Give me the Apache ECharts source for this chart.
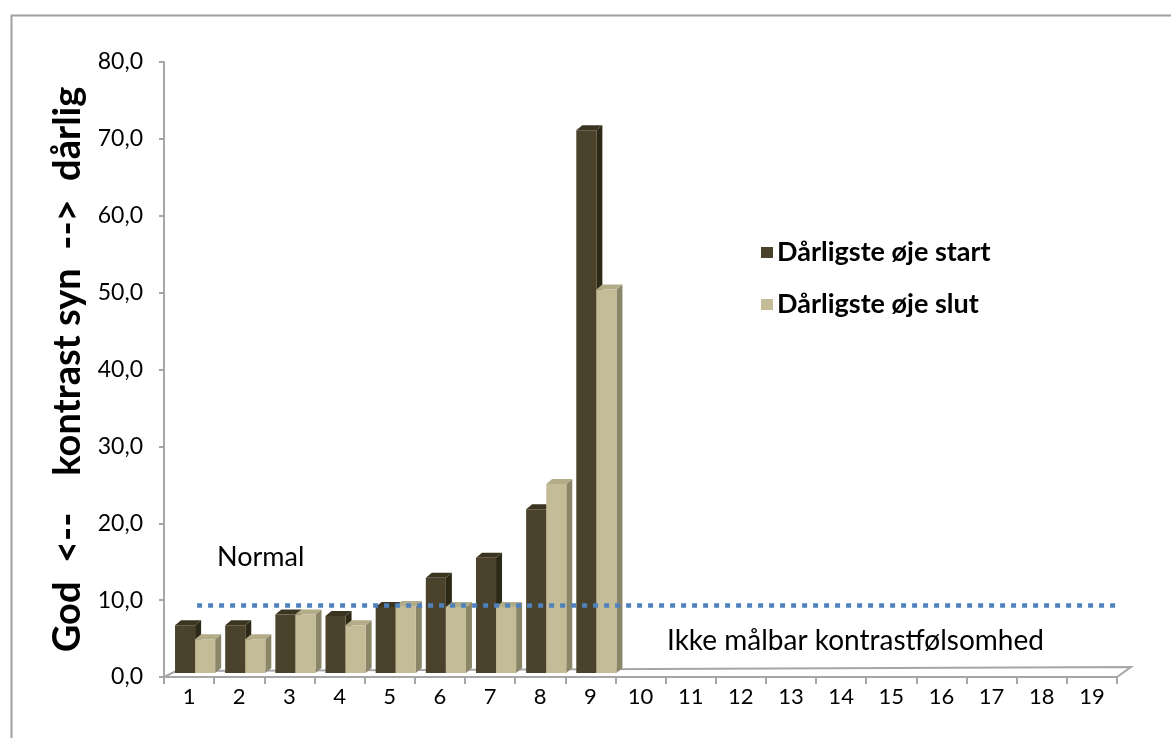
<!DOCTYPE html>
<html>
<head>
<meta charset="utf-8">
<script src="https://cdn.jsdelivr.net/npm/echarts@6/dist/echarts.min.js"></script>
<style>
  html, body { margin: 0; padding: 0; background: #ffffff; }
  #chart { width: 1171px; height: 738px; }
</style>
</head>
<body>
<div id="chart"></div>
<script>
// Patients 1..19 on the category axis; only the first nine have measurements
const categories = ['1','2','3','4','5','6','7','8','9','10','11','12','13','14','15','16','17','18','19'];
const startValues = [6.2, 6.2, 7.6, 7.4, 8.6, 12.4, 15.0, 21.3, 70.6];
const endValues = [4.4, 4.4, 7.6, 6.2, 8.7, 8.6, 8.6, 24.6, 49.9];
const seriesNames = ['Dårligste øje start', 'Dårligste øje slut'];
const normalLevel = 9.3;
const yTicks = { min: 0, max: 80, interval: 10 };

const FONT = 'Lato, "Open Sans", sans-serif';
const palette = {
  start: { front: '#4A422A', side: '#2D2917', top: '#3A3421' },
  end:   { front: '#C4BC96', side: '#8C8669', top: '#B3AC88' }
};

// depth of the pseudo-3D extrusion
const DX = 6, DY = -5, LIFT = 4;

function barRenderer(colors, slot) {
  return function (params, api) {
    const cat = api.value(0);
    const val = api.value(1);
    const base = api.coord([cat, 0]);
    const tip = api.coord([cat, val]);
    const bw = api.size([1, 0])[0];
    const w = bw * 0.4;
    const x0 = base[0] - bw * 0.28 + slot * w;
    const x1 = x0 + w;
    const yb = base[1] - LIFT;
    const yt = tip[1] - LIFT;
    return {
      type: 'group',
      children: [
        { type: 'polygon', shape: { points: [[x1, yt], [x1 + DX, yt + DY], [x1 + DX, yb + DY], [x1, yb]] },
          style: { fill: colors.side } },
        { type: 'polygon', shape: { points: [[x0, yt], [x1, yt], [x1 + DX, yt + DY], [x0 + DX, yt + DY]] },
          style: { fill: colors.top } },
        { type: 'rect', shape: { x: x0, y: yt, width: w, height: yb - yt },
          style: { fill: colors.front } }
      ]
    };
  };
}

const chart = echarts.init(document.getElementById('chart'), null, { renderer: 'canvas' });

const option = {
  backgroundColor: '#ffffff',
  animation: false,
  grid: { left: 164, right: 54, top: 62, bottom: 61 },
  legend: {
    orient: 'vertical',
    left: 756,
    top: 234,
    itemGap: 25,
    itemWidth: 12,
    itemHeight: 11,
    icon: 'rect',
    textStyle: { fontFamily: FONT, fontWeight: 'bold', fontSize: 27, lineHeight: 27, color: '#000000', padding: [0, 0, 0, -1] },
    data: seriesNames
  },
  xAxis: {
    type: 'category',
    data: categories,
    boundaryGap: true,
    axisLine: { show: true, lineStyle: { color: '#A6A6A6', width: 2 } },
    axisTick: { show: true, length: 7, lineStyle: { color: '#A6A6A6', width: 2 } },
    axisLabel: { fontFamily: FONT, fontSize: 22, color: '#000000', margin: 9 },
    splitLine: { show: false }
  },
  yAxis: {
    type: 'value',
    min: yTicks.min,
    max: yTicks.max,
    interval: yTicks.interval,
    name: 'God  <--    kontrast syn  -->  dårlig',
    nameLocation: 'middle',
    nameGap: 74,
    nameTextStyle: { fontFamily: FONT, fontWeight: 'bold', fontSize: 38, color: '#000000' },
    axisLine: { show: true, lineStyle: { color: '#A6A6A6', width: 2 } },
    axisTick: { show: true, length: 5, lineStyle: { color: '#A6A6A6', width: 2 } },
    axisLabel: {
      fontFamily: FONT, fontSize: 23, color: '#000000', margin: 21,
      formatter: v => v.toFixed(1).replace('.', ',')
    },
    splitLine: { show: false }
  },
  graphic: [
    { type: 'rect', left: 9, top: 13, shape: { width: 1200, height: 800 },
      style: { fill: 'none', stroke: '#A0A0A0', lineWidth: 2 }, silent: true },
    { type: 'text', left: 217, top: 544,
      style: { text: 'Normal', font: '27px ' + FONT, fill: '#000000' } },
    { type: 'text', left: 667, top: 627,
      style: { text: 'Ikke målbar kontrastfølsomhed', font: '28px ' + FONT, fill: '#000000' } }
  ],
  series: [
    {
      // floor plane under the bars
      type: 'custom',
      silent: true,
      z: 1,
      data: [[0]],
      renderItem: function (params, api) {
        const bw = api.size([1, 0])[0];
        const a = api.coord([0, 0]);
        const b = api.coord([categories.length - 1, 0]);
        const xl = a[0] - bw / 2, xr = b[0] + bw / 2, y = a[1];
        return {
          type: 'polygon',
          shape: { points: [[xl, y], [xr, y], [xr + 14, y - 10], [xl + 12, y - 6]] },
          style: { fill: '#ffffff', stroke: '#A6A6A6', lineWidth: 2 }
        };
      }
    },
    {
      name: seriesNames[0],
      type: 'custom',
      z: 3,
      itemStyle: { color: palette.start.front },
      data: startValues.map((v, i) => [i, v]),
      renderItem: barRenderer(palette.start, 0)
    },
    {
      name: seriesNames[1],
      type: 'custom',
      z: 4,
      itemStyle: { color: palette.end.front },
      data: endValues.map((v, i) => [i, v]),
      renderItem: barRenderer(palette.end, 1)
    },
    {
      // dotted reference line for normal contrast sensitivity
      type: 'custom',
      silent: true,
      z: 5,
      data: [[0, normalLevel]],
      renderItem: function (params, api) {
        const bw = api.size([1, 0])[0];
        const a = api.coord([0, api.value(1)]);
        const b = api.coord([categories.length - 1, api.value(1)]);
        return {
          type: 'line',
          shape: { x1: a[0] + bw * 0.16, y1: a[1], x2: b[0] + bw / 2, y2: b[1] },
          style: { stroke: '#4F81BD', lineWidth: 4.5, lineDash: [5, 6] }
        };
      }
    }
  ]
};

chart.setOption(option);
</script>
</body>
</html>
